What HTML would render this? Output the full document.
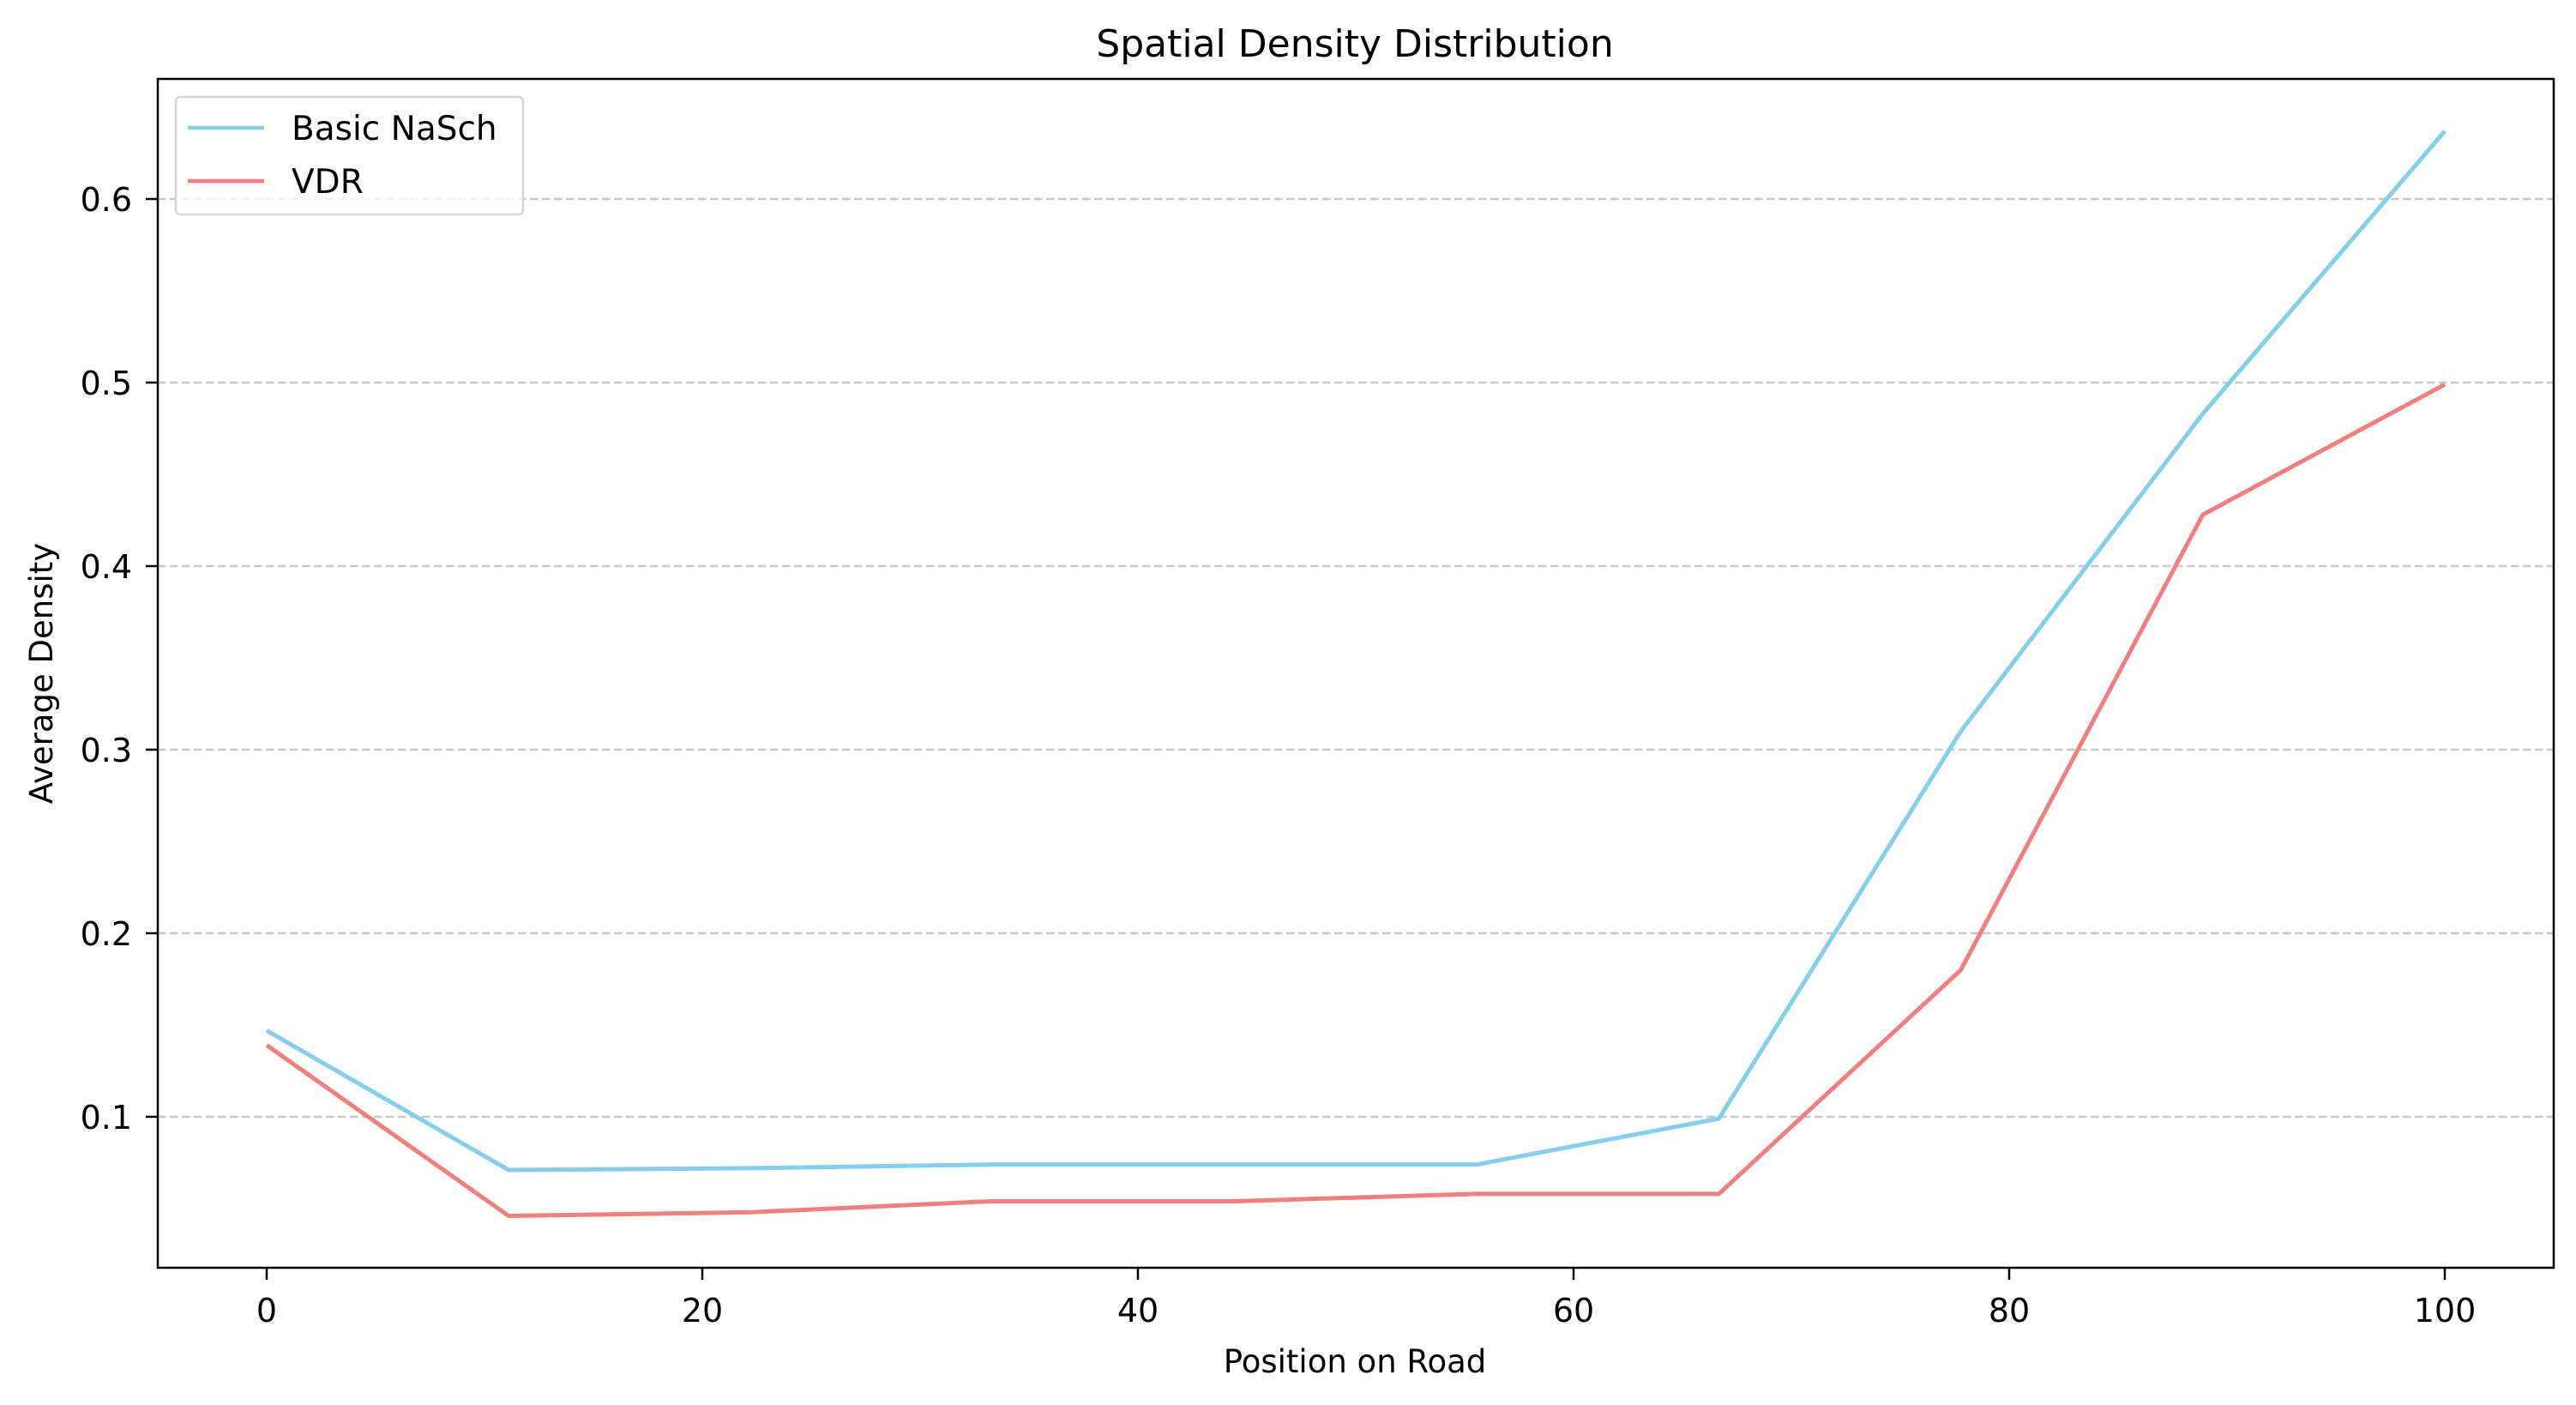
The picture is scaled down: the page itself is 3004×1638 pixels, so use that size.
<!DOCTYPE html>
<html><head><meta charset="utf-8"><style>
body{margin:0;background:#fff}
svg{display:block;font-family:"DejaVu Sans","Liberation Sans",sans-serif}
</style></head><body>
<svg id="chart" width="3004" height="1638" viewBox="0 0 3004 1638">
<text x="1580" y="66" font-size="44" text-anchor="middle">Spatial Density Distribution</text>
<g id="grid"></g>
<g id="lines"></g>
<rect x="184" y="92" width="2794" height="1386" fill="none" stroke="#000" stroke-width="2.5"/>
<g id="xt"></g><g id="yt"></g>
<text x="1580" y="1600" font-size="37" text-anchor="middle">Position on Road</text>
<text transform="translate(61,785) rotate(-90)" font-size="37" text-anchor="middle">Average Density</text>
<g>
<rect x="205" y="113" width="405" height="137" rx="5" fill="#fff" fill-opacity="0.8" stroke="#d5d5d5" stroke-width="2.5"/>
<line x1="219" y1="149" x2="308" y2="149" stroke="#87ceeb" stroke-width="4.5"/>
<text x="340" y="163" font-size="39">Basic NaSch</text>
<line x1="219" y1="211" x2="308" y2="211" stroke="#f08080" stroke-width="4.5"/>
<text x="340" y="225" font-size="39">VDR</text>
</g>
</svg>
<script>
const positions=[0,11.11,22.22,33.33,44.44,55.56,66.67,77.78,88.89,100];
const basicNaSch=[0.147,0.071,0.072,0.074,0.074,0.074,0.099,0.31,0.483,0.637];
const vdr=[0.139,0.046,0.048,0.054,0.054,0.058,0.058,0.18,0.428,0.499];
const xTicks=[0,20,40,60,80,100];
const yTicks=[0.1,0.2,0.3,0.4,0.5,0.6];
const NS="http://www.w3.org/2000/svg";
function X(v){return 311+(2851-311)*v/100;}
function Y(v){return 1302-(v-0.1)*2140;}
function mk(t,a,p){const e=document.createElementNS(NS,t);for(const k in a)e.setAttribute(k,a[k]);document.getElementById(p).appendChild(e);return e;}
yTicks.forEach(v=>{
 const g=mk('line',{x1:184,x2:2978,y1:Y(v),y2:Y(v),stroke:'#c8c8c8','stroke-width':2.5,'stroke-dasharray':'9.5,4.5'},'grid');
 
 
 const t=mk('line',{x1:170,x2:184,y1:Y(v),y2:Y(v),stroke:'#000','stroke-width':2.5},'yt');
 
 
 const l=mk('text',{x:154,y:Y(v)+14,'font-size':38,'text-anchor':'end'},'yt');
 l.textContent=v.toFixed(1);
 
 
});
xTicks.forEach(v=>{
 const t=mk('line',{x1:X(v),x2:X(v),y1:1478,y2:1492,stroke:'#000','stroke-width':2.5},'xt');
 
 
 const l=mk('text',{x:X(v),y:1541,'font-size':38,'text-anchor':'middle'},'xt');
 l.textContent=v;
 
 
});
[[basicNaSch,'#87ceeb','line-basic-nasch'],[vdr,'#f08080','line-vdr']].forEach(([d,c,n])=>{
 const p=mk('polyline',{points:d.map((v,i)=>X(positions[i])+','+Y(v)).join(' '),fill:'none',stroke:c,'stroke-width':5,'stroke-linejoin':'round'},'lines');
 
 
});
</script>
</body></html>
